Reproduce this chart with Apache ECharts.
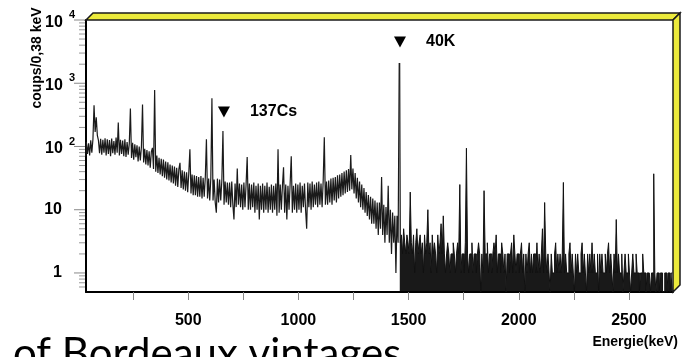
<!DOCTYPE html>
<html>
<head>
<meta charset="utf-8">
<script src="https://cdn.jsdelivr.net/npm/echarts@6/dist/echarts.min.js"></script>
<style>
  html, body { margin: 0; padding: 0; background: #fff; }
  #chart { width: 692px; height: 357px; }
</style>
</head>
<body>
<div id="chart"></div>
<script>
// Gamma spectrum of a wine sample, counts per bin (log scale).
const binWidth = 5; // keV per plotted bin

// Continuum below the 40K line, first bin at lowStart keV
const lowStart = 35;
const lowCounts = [
  70, 118, 76, 112, 72, 125, 80, 130, 450, 170,
  290, 150, 125, 78, 132, 74, 128, 80, 135, 72,
  130, 76, 126, 70, 134, 78, 122, 74, 138, 80,
  240, 72, 128, 76, 124, 70, 130, 68, 118, 74,
  112, 400, 66, 114, 62, 108, 68, 104, 58, 100,
  60, 98, 460, 56, 92, 52, 88, 50, 84, 46,
  82, 95, 44, 780, 40, 72, 38, 66, 36, 64,
  34, 62, 32, 58, 30, 56, 29, 52, 27, 50,
  26, 48, 24, 46, 23, 44, 55, 22, 42, 21,
  40, 20, 39, 19, 38, 90, 18, 36, 17, 35,
  17, 34, 16, 33, 16, 34, 15, 32, 16, 33,
  130, 15, 31, 14, 32, 580, 14, 30, 13, 9,
  31, 13, 30, 14, 29, 175, 12, 28, 13, 27,
  12, 27, 11, 28, 12, 7, 26, 11, 45, 12,
  26, 11, 25, 10, 27, 11, 25, 68, 10, 26,
  10, 25, 11, 27, 9, 24, 10, 26, 7, 24,
  10, 26, 9, 24, 10, 27, 9, 23, 10, 25,
  9, 24, 10, 26, 8, 90, 9, 25, 10, 24,
  47, 9, 25, 7, 24, 10, 26, 70, 9, 24,
  10, 26, 9, 25, 10, 27, 9, 24, 11, 26,
  10, 5, 27, 11, 26, 10, 28, 11, 25, 12,
  27, 11, 28, 12, 26, 11, 29, 140, 12, 28,
  12, 29, 13, 31, 12, 32, 14, 33, 13, 35,
  15, 36, 16, 38, 17, 40, 18, 42, 19, 44,
  20, 73, 21, 45, 18, 38, 15, 32, 13, 28,
  11, 25, 10, 22, 9, 19, 8, 17, 7, 16,
  6, 15, 6, 14, 5, 13, 4, 13, 5, 33,
  4, 12, 3, 11, 4, 24, 3, 10, 2, 9,
  3, 8, 1, 8, 3
];

// 40K line
const k40Energy = 1460;
const k40Counts = 2090;

// Sparse region above 40K (0 = empty bin), first bin at highStart keV
const highStart = 1465;
const highCounts = [
  3, 4, 2, 5, 3, 2, 4, 3, 2, 19,
  3, 2, 4, 1, 3, 5, 2, 3, 4, 2,
  3, 1, 4, 2, 3, 10, 2, 3, 1, 4,
  2, 3, 2, 1, 4, 2, 3, 6, 2,
  8, 2, 1, 2, 3, 2, 1, 2, 2, 3,
  2, 1, 2, 3, 2, 25, 1, 2, 2, 1,
  3, 94, 2, 1, 2, 2, 3, 1, 2, 2,
  1, 2, 3, 2, 0, 2, 1, 20, 2, 2,
  3, 1, 2, 2, 1, 2, 3, 2, 4, 1,
  2, 2, 1, 3, 2, 1, 2, 0, 2, 2,
  1, 2, 3, 1, 4, 2, 1, 2, 2, 1,
  2, 3, 1, 2, 0, 2, 1, 2, 3, 1,
  2, 1, 2, 2, 1, 3, 1, 2,
  1, 2, 5, 1, 13, 2, 1, 2, 1, 0,
  2, 1, 1, 2, 3, 1, 2, 1, 2, 1,
  2, 27, 1, 2, 1, 1, 2, 3, 1, 2,
  1, 0, 2, 1, 2, 1, 1, 2, 3, 1,
  2, 1, 0, 2, 1, 2, 1, 3, 1, 2,
  1, 1, 2, 0, 2, 1, 2, 1, 1, 2,
  1, 2, 3, 1, 2, 1, 0, 2, 1, 7,
  1, 2, 1, 1, 2, 0, 1, 2, 1, 1,
  2, 1, 0, 1, 2, 1, 1, 2,
  1, 1, 0, 1, 1, 2, 1, 1, 0, 1,
  1, 1, 0, 1, 1, 37, 1, 0, 1, 1,
  0, 1, 1, 0, 0, 1, 1, 0, 1, 1,
  0, 1, 1
];

// Axis ranges and ticks
const energyRange = [36, 2700];
const countRange = [0.5, 10000];
const xTickValues = [250, 500, 750, 1000, 1250, 1500, 1750, 2000, 2250, 2500];
const xLabelValues = [500, 1000, 1500, 2000, 2500];
const yMajorValues = [1, 10, 100, 1000, 10000];
const yMinorValues = [
  0.6, 0.7, 0.8, 0.9,
  2, 3, 4, 5, 6, 7, 8, 9,
  20, 30, 40, 50, 60, 70, 80, 90,
  200, 300, 400, 500, 600, 700, 800, 900,
  2000, 3000, 4000, 5000, 6000, 7000, 8000, 9000
];

// Line markers
const markerNames = ['137Cs', '40K'];
const markerEnergies = [662, 1461];
const markerLevels = [350, 4500];

const FONT = "'Liberation Sans', Arial, sans-serif";

const continuum = lowCounts.map((c, i) => [lowStart + i * binWidth, c]);
continuum.push([k40Energy, k40Counts]);
// empty bins sit on the lower edge of the log axis
const tail = [[k40Energy, k40Counts]].concat(
  highCounts.map((c, i) => [highStart + i * binWidth, c > 0 ? c : countRange[0]])
);

const chart = echarts.init(document.getElementById('chart'), null, { renderer: 'canvas' });

chart.setOption({
  animation: false,
  backgroundColor: '#fff',
  grid: { left: 86, right: 19, top: 20, bottom: 65, outerBoundsMode: 'none' },
  xAxis: {
    type: 'value',
    min: energyRange[0],
    max: energyRange[1],
    axisLine: { lineStyle: { color: '#000', width: 2 } },
    axisTick: { show: true, customValues: xTickValues, length: 8, lineStyle: { color: '#888', width: 1 } },
    axisLabel: {
      customValues: xLabelValues, margin: 21, color: '#000',
      fontSize: 16, fontWeight: 'bold', fontFamily: FONT,
      formatter: v => String(v)
    },
    splitLine: { show: false }
  },
  yAxis: {
    type: 'log',
    logBase: 10,
    min: countRange[0],
    max: countRange[1],
    axisLine: { show: true, lineStyle: { color: '#000', width: 2 } },
    axisTick: { show: false },
    splitLine: { show: false },
    axisLabel: {
      showMinLabel: false,
      showMaxLabel: true,
      margin: 11,
      formatter: v => {
        const p = Math.round(Math.log10(v));
        if (p <= 0) return '{b|1}{pad| }';
        if (p === 1) return '{b|10}{pad| }';
        return '{b|10}{sup|' + p + '}';
      },
      rich: {
        b: { fontSize: 16, fontWeight: 'bold', fontFamily: FONT, color: '#000', verticalAlign: 'bottom' },
        sup: { fontSize: 11, fontWeight: 'bold', fontFamily: FONT, color: '#000', verticalAlign: 'top', padding: [0, 0, 10, 6] },
        pad: { width: 13 }
      }
    }
  },
  series: [{
    type: 'line',
    data: continuum,
    step: 'middle',
    showSymbol: false,
    lineStyle: { color: '#1a1a1a', width: 1.2 },
    z: 2,
    markPoint: {
      symbol: 'path://M0,0 L12,0 L6,11 Z',
      symbolSize: [12, 11],
      itemStyle: { color: '#000' },
      label: {
        show: true, position: 'right', distance: 20, color: '#000',
        fontSize: 16, fontWeight: 'bold', fontFamily: FONT,
        formatter: p => p.name
      },
      data: markerNames.map((n, i) => ({ name: n, coord: [markerEnergies[i], markerLevels[i]] }))
    }
  }, {
    type: 'line',
    data: tail,
    step: 'middle',
    showSymbol: false,
    lineStyle: { color: '#111', width: 1 },
    areaStyle: { color: '#000', opacity: 0.9, origin: countRange[0] },
    z: 2
  }]
});

// Frame decoration and log ticks, placed from the axis scales
const tl = chart.convertToPixel({ gridIndex: 0 }, [energyRange[0], countRange[1]]);
const br = chart.convertToPixel({ gridIndex: 0 }, [energyRange[1], countRange[0]]);
const depth = 7;
const axisX = tl[0];
const graphics = [];

yMajorValues.forEach(v => {
  const y = chart.convertToPixel({ yAxisIndex: 0 }, v);
  graphics.push({ type: 'line', shape: { x1: axisX - 12, y1: y, x2: axisX - 1, y2: y }, style: { stroke: '#888', lineWidth: 1 }, z: 10 });
});
yMinorValues.forEach(v => {
  const y = chart.convertToPixel({ yAxisIndex: 0 }, v);
  graphics.push({ type: 'line', shape: { x1: axisX - 7, y1: y, x2: axisX - 1, y2: y }, style: { stroke: '#999', lineWidth: 1 }, z: 10 });
});

const yellow = '#ecea3c';
graphics.push({
  type: 'polygon', z: 20,
  shape: { points: [[tl[0], tl[1]], [tl[0] + depth, tl[1] - depth], [br[0] + depth, tl[1] - depth], [br[0], tl[1]]] },
  style: { fill: yellow, stroke: '#1a1a1a', lineWidth: 1.5 }
});
graphics.push({
  type: 'polygon', z: 20,
  shape: { points: [[br[0], tl[1]], [br[0] + depth, tl[1] - depth], [br[0] + depth, br[1] - depth], [br[0], br[1]]] },
  style: { fill: yellow, stroke: '#1a1a1a', lineWidth: 1.5 }
});

graphics.push({
  type: 'text', z: 20, x: 37, y: 58, rotation: Math.PI / 2,
  style: { text: 'coups/0,38 keV', fill: '#000', font: "bold 14px 'Liberation Sans', Arial, sans-serif", align: 'center', verticalAlign: 'middle' }
});
graphics.push({
  type: 'text', z: 20, x: 678, y: 342,
  style: { text: 'Energie(keV)', fill: '#000', font: "bold 14px 'Liberation Sans', Arial, sans-serif", align: 'right', verticalAlign: 'middle' }
});
graphics.push({
  type: 'text', z: 20, x: 13, y: 333,
  style: { text: 'of Bordeaux vintages', fill: '#000', font: "42px Lato, 'Open Sans', sans-serif", align: 'left', verticalAlign: 'top' }
});

chart.setOption({ graphic: graphics });
</script>
</body>
</html>
